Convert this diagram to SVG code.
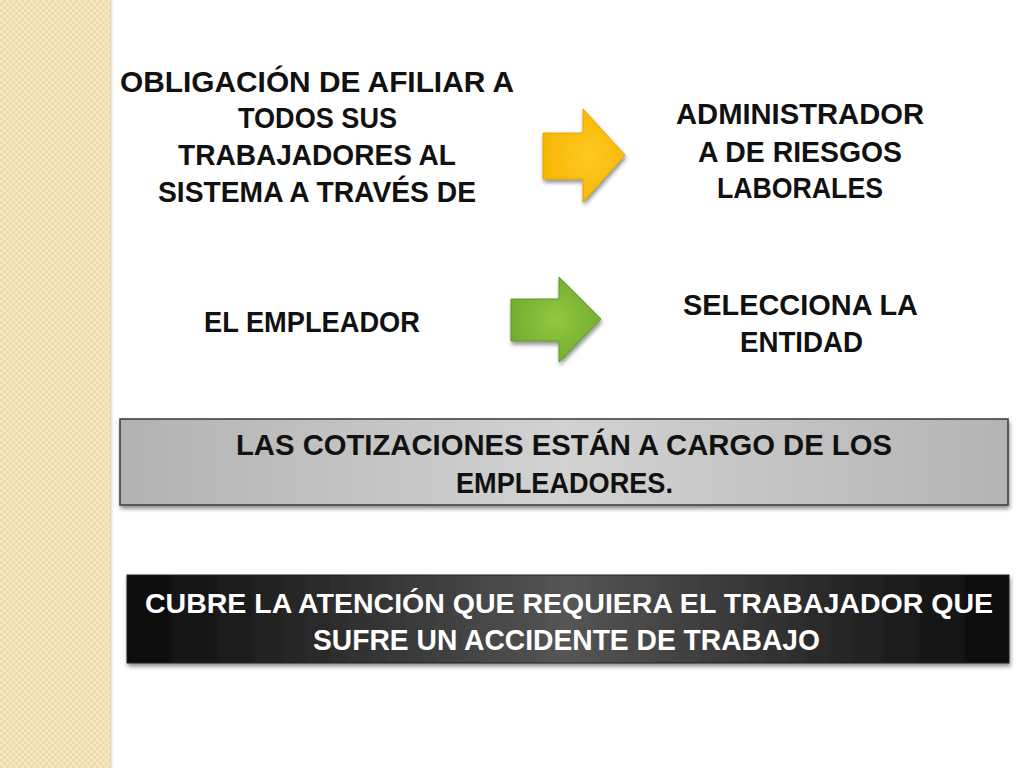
<svg xmlns="http://www.w3.org/2000/svg" width="1024" height="768" viewBox="0 0 1024 768">
<defs>
<style>
.t{font-family:"Liberation Sans",Arial,sans-serif;font-weight:bold;font-size:30px;fill:#111}
.w{fill:#ffffff}
.s{font-size:28px}
</style>
<pattern id="chk" width="6" height="6" patternUnits="userSpaceOnUse">
<rect width="6" height="6" fill="#f0dcaa"/>
<rect width="3" height="3" fill="#f6e8c4"/>
<rect x="3" y="3" width="3" height="3" fill="#f6e8c4"/>
</pattern>
<linearGradient id="stripeShadow" x1="0" x2="1" y1="0" y2="0">
<stop offset="0" stop-color="#c8b890" stop-opacity="0.7"/>
<stop offset="1" stop-color="#ffffff" stop-opacity="0"/>
</linearGradient>
<radialGradient id="yel" cx="0.55" cy="0.5" r="0.6">
<stop offset="0" stop-color="#fdc923"/>
<stop offset="1" stop-color="#f7b500"/>
</radialGradient>
<radialGradient id="grn" cx="0.5" cy="0.5" r="0.6">
<stop offset="0" stop-color="#93c83f"/>
<stop offset="1" stop-color="#6daa2c"/>
</radialGradient>
<linearGradient id="gry" x1="0" x2="1" y1="0" y2="0">
<stop offset="0" stop-color="#b2b2b2"/>
<stop offset="0.5" stop-color="#d2d2d2"/>
<stop offset="1" stop-color="#b4b4b4"/>
</linearGradient>
<linearGradient id="drk" x1="0" x2="1" y1="0" y2="0">
<stop offset="0" stop-color="#0a0a0a"/>
<stop offset="0.5" stop-color="#555555"/>
<stop offset="1" stop-color="#0a0a0a"/>
</linearGradient>
<filter id="sh" x="-10%" y="-20%" width="120%" height="150%">
<feGaussianBlur in="SourceAlpha" stdDeviation="2"/>
<feOffset dx="1" dy="3" result="b"/>
<feComponentTransfer><feFuncA type="linear" slope="0.45"/></feComponentTransfer>
<feMerge><feMergeNode/><feMergeNode in="SourceGraphic"/></feMerge>
</filter>
</defs>
<rect width="1024" height="768" fill="#ffffff"/>
<g id="stripe">
<rect x="0" y="0" width="110" height="768" fill="url(#chk)"/>
<rect x="110" y="0" width="5" height="768" fill="url(#stripeShadow)"/>
</g>
<g id="connectors">
<polygon id="arrow-yellow" points="543,133 583,133 583,109 625,155 583,202 583,179 543,179" fill="url(#yel)" stroke="#e5a600" stroke-width="1" filter="url(#sh)"/>
<polygon id="arrow-green" points="511,299 559,299 559,277 601,319 559,362 559,341 511,341" fill="url(#grn)" stroke="#5e9a2a" stroke-width="1" filter="url(#sh)"/>
</g>
<g id="node-obligacion">
<text class="t" x="120" y="92" textLength="394" lengthAdjust="spacingAndGlyphs">OBLIGACIÓN DE AFILIAR A</text>
<text class="t" x="238" y="128" textLength="159" lengthAdjust="spacingAndGlyphs">TODOS SUS</text>
<text class="t" x="178" y="165" textLength="278" lengthAdjust="spacingAndGlyphs">TRABAJADORES AL</text>
<text class="t" x="158" y="202" textLength="318" lengthAdjust="spacingAndGlyphs">SISTEMA A TRAVÉS DE</text>
</g>
<g id="node-administradora">
<text class="t" x="676" y="124" textLength="248" lengthAdjust="spacingAndGlyphs">ADMINISTRADOR</text>
<text class="t" x="698" y="162" textLength="204" lengthAdjust="spacingAndGlyphs">A DE RIESGOS</text>
<text class="t" x="717" y="198" textLength="166" lengthAdjust="spacingAndGlyphs">LABORALES</text>
</g>
<g id="node-empleador">
<text class="t" x="204" y="332" textLength="216" lengthAdjust="spacingAndGlyphs">EL EMPLEADOR</text>
</g>
<g id="node-selecciona">
<text class="t" x="683" y="315" textLength="235" lengthAdjust="spacingAndGlyphs">SELECCIONA LA</text>
<text class="t" x="740" y="352" textLength="123" lengthAdjust="spacingAndGlyphs">ENTIDAD</text>
</g>
<g id="node-cotizaciones">
<rect x="120" y="419" width="888" height="86" fill="url(#gry)" stroke="#3a3a3a" stroke-width="1.5" filter="url(#sh)"/>
<text class="t" x="236" y="455" textLength="656" lengthAdjust="spacingAndGlyphs">LAS COTIZACIONES ESTÁN A CARGO DE LOS</text>
<text class="t" x="456" y="493" textLength="217" lengthAdjust="spacingAndGlyphs">EMPLEADORES.</text>
</g>
<g id="node-cubre">
<rect x="127" y="575" width="882" height="88" fill="url(#drk)" stroke="#222" stroke-width="1" filter="url(#sh)"/>
<text class="t w s" x="145" y="613" textLength="848" lengthAdjust="spacingAndGlyphs">CUBRE LA ATENCIÓN QUE REQUIERA EL TRABAJADOR QUE</text>
<text class="t w" x="313" y="650" textLength="507" lengthAdjust="spacingAndGlyphs">SUFRE UN ACCIDENTE DE TRABAJO</text>
</g>
</svg>
